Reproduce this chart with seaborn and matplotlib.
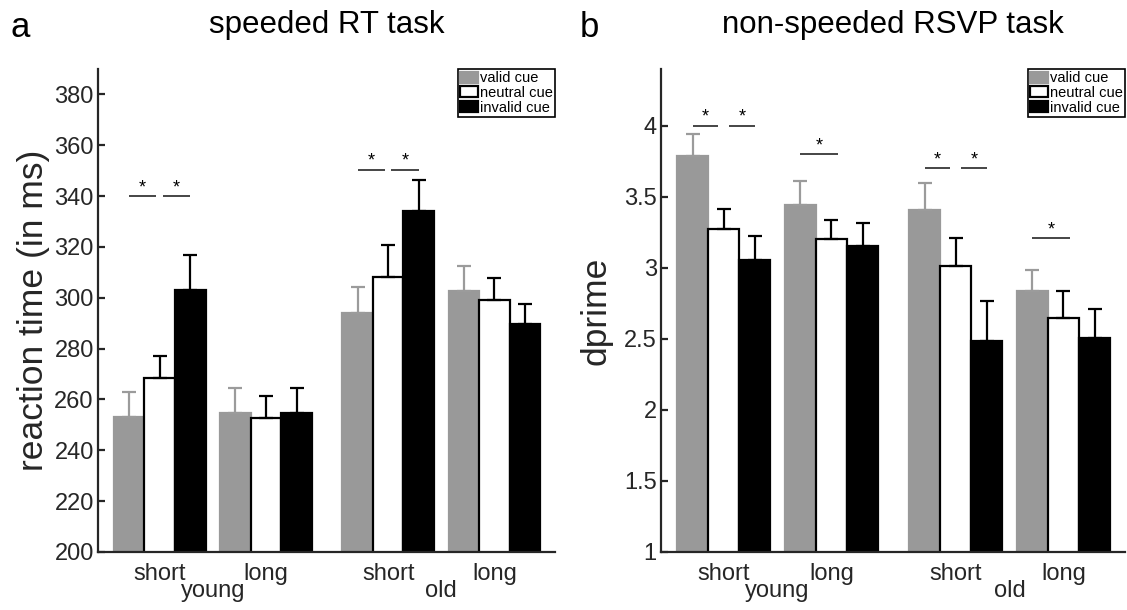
import numpy as np
import pandas as pd
import seaborn as sns
import matplotlib.pyplot as plt
from matplotlib import transforms

# categories
cues = ['valid cue', 'neutral cue', 'invalid cue']
durations = ['short', 'long', 'short', 'long']
ages = ['young', 'old']

# speeded RT task (ms)
rt_valid = [253.1, 254.6, 294.2, 302.5]
rt_neutral = [268.4, 252.6, 308.2, 299.0]
rt_invalid = [303.1, 254.8, 334.0, 289.6]
rt_valid_err = [9.9, 10.0, 10.0, 10.0]
rt_neutral_err = [8.8, 8.9, 12.4, 8.7]
rt_invalid_err = [13.8, 9.6, 12.2, 8.0]

# non-speeded RSVP task (dprime)
dp_valid = [3.79, 3.44, 3.405, 2.84]
dp_neutral = [3.276, 3.20, 3.015, 2.647]
dp_invalid = [3.056, 3.152, 2.488, 2.507]
dp_valid_err = [0.151, 0.170, 0.195, 0.143]
dp_neutral_err = [0.142, 0.140, 0.197, 0.192]
dp_invalid_err = [0.167, 0.162, 0.277, 0.203]

# significance: (condition index, bar from, bar to, level)
rt_sig = [(0, 0, 1, 340), (0, 1, 2, 340), (2, 0, 1, 350.4), (2, 1, 2, 350.4)]
dp_sig = [(0, 0, 1, 4.0), (0, 1, 2, 4.0), (1, 0, 1, 3.80),
          (2, 0, 1, 3.70), (2, 1, 2, 3.70), (3, 0, 1, 3.207)]

# layout
x_pos = np.array([1.0, 2.0, 3.15, 4.15])
colors = {'valid cue': '#999999', 'neutral cue': 'white', 'invalid cue': 'black'}
err_colors = ['#9b9b9b', 'black', 'black']
dark = '#262626'

sns.set_theme(style='ticks')
plt.rcParams['font.family'] = ['Liberation Sans', 'DejaVu Sans']
plt.rcParams['text.color'] = dark
plt.rcParams['axes.labelcolor'] = dark


def make_df(vals, errs):
    rows = []
    for cue, v, e in zip(cues, vals, errs):
        for x, vv, ee in zip(x_pos, v, e):
            rows.append({'pos': x, 'cue': cue, 'value': vv, 'err': ee})
    return pd.DataFrame(rows)


def draw_panel(ax, df, ylim, yticks, yticklabels, ylabel, title, sig, gap, long_ext):
    sns.barplot(data=df, x='pos', y='value', hue='cue', hue_order=cues,
                palette=colors, native_scale=True, width=0.864, errorbar=None,
                legend=False, saturation=1, edgecolor='black', linewidth=1.6, ax=ax)
    bar_conts = list(ax.containers)
    centers = []
    for k, cont in enumerate(bar_conts):
        if k == 0:
            for p in cont.patches:
                p.set_edgecolor(colors['valid cue'])
        pts = sorted(cont.patches, key=lambda p: p.get_x())
        errs = df[df['cue'] == cues[k]].sort_values('pos')['err'].values
        xs = [p.get_x() + p.get_width() / 2 for p in pts]
        hs = [p.get_height() for p in pts]
        centers.append(xs)
        ax.errorbar(xs, hs, yerr=[np.zeros(len(errs)), errs], fmt='none',
                    ecolor=err_colors[k], elinewidth=1.6, capsize=4.8, capthick=1.6,
                    zorder=1)
    for cond, i, j, lvl in sig:
        x0 = centers[i][cond]
        x1 = centers[j][cond]
        if i == 0 and j == 1 and not any(s[0] == cond and s[1] == 1 for s in sig):
            x1 = x1 + long_ext
        else:
            if i == 1:
                x0 += gap
            if j == 1:
                x1 -= gap
        ax.plot([x0, x1], [lvl, lvl], color=dark, lw=1.2, solid_capstyle='butt')
        ax.annotate('*', xy=((x0 + x1) / 2, lvl), xytext=(0, 0),
                    textcoords='offset points', ha='center', va='bottom',
                    fontsize=13, color='black')

    ax.set_xlim(0.42, 4.72)
    ax.set_ylim(*ylim)
    ax.set_yticks(yticks)
    ax.set_yticklabels(yticklabels)
    ax.set_xticks(x_pos)
    ax.set_xticklabels(durations)
    ax.set_xlabel('')
    ax.set_ylabel(ylabel, fontsize=25.5)
    ax.yaxis.set_label_coords(-0.104, 0.5)
    ax.set_title(title, fontsize=22.5, pad=26, color='black')
    sns.despine(ax=ax)
    for s in ['left', 'bottom']:
        ax.spines[s].set_color(dark)
        ax.spines[s].set_linewidth(1.6)
    ax.tick_params(axis='y', direction='in', length=5, width=1.6, colors=dark,
                   labelsize=17, pad=3)
    ax.tick_params(axis='x', length=0, colors=dark, labelsize=17, pad=8)

    trans = transforms.blended_transform_factory(ax.transData, ax.transAxes)
    ax.text((x_pos[0] + x_pos[1]) / 2, -0.093, ages[0], transform=trans,
            ha='center', va='baseline', fontsize=17, color=dark)
    ax.text((x_pos[2] + x_pos[3]) / 2, -0.093, ages[1], transform=trans,
            ha='center', va='baseline', fontsize=17, color=dark)

    leg = ax.legend(handles=bar_conts, labels=cues, loc='upper right',
                    borderaxespad=0, fancybox=False, frameon=True, framealpha=1,
                    edgecolor='black', fontsize=10.5, handlelength=1.25,
                    handleheight=0.8, handletextpad=0.1, labelspacing=0.05,
                    borderpad=0.15)
    leg.get_frame().set_linewidth(1.2)
    for t in leg.get_texts():
        t.set_color('black')


fig = plt.figure(figsize=(11.27, 6.10), dpi=100)
ax_a = fig.add_axes([98 / 1127, 1 - 552 / 610, 457 / 1127, 483 / 610])
ax_b = fig.add_axes([661 / 1127, 1 - 552 / 610, 464 / 1127, 483 / 610])

df_rt = make_df([rt_valid, rt_neutral, rt_invalid], [rt_valid_err, rt_neutral_err, rt_invalid_err])
df_dp = make_df([dp_valid, dp_neutral, dp_invalid], [dp_valid_err, dp_neutral_err, dp_invalid_err])

draw_panel(ax_a, df_rt, (200, 390), np.arange(200, 381, 20),
           [str(v) for v in range(200, 381, 20)], 'reaction time (in ms)',
           'speeded RT task', rt_sig, 0.03, 0.06)
draw_panel(ax_b, df_dp, (1, 4.4), np.arange(1, 4.01, 0.5),
           ['1', '1.5', '2', '2.5', '3', '3.5', '4'], 'dprime',
           'non-speeded RSVP task', dp_sig, 0.05, 0.06)

fig.text(10 / 1127, 1 - 37 / 610, 'a', fontsize=25, color='black', va='baseline')
fig.text(580 / 1127, 1 - 37 / 610, 'b', fontsize=25, color='black', va='baseline')

fig.savefig('out.png', dpi=100)
